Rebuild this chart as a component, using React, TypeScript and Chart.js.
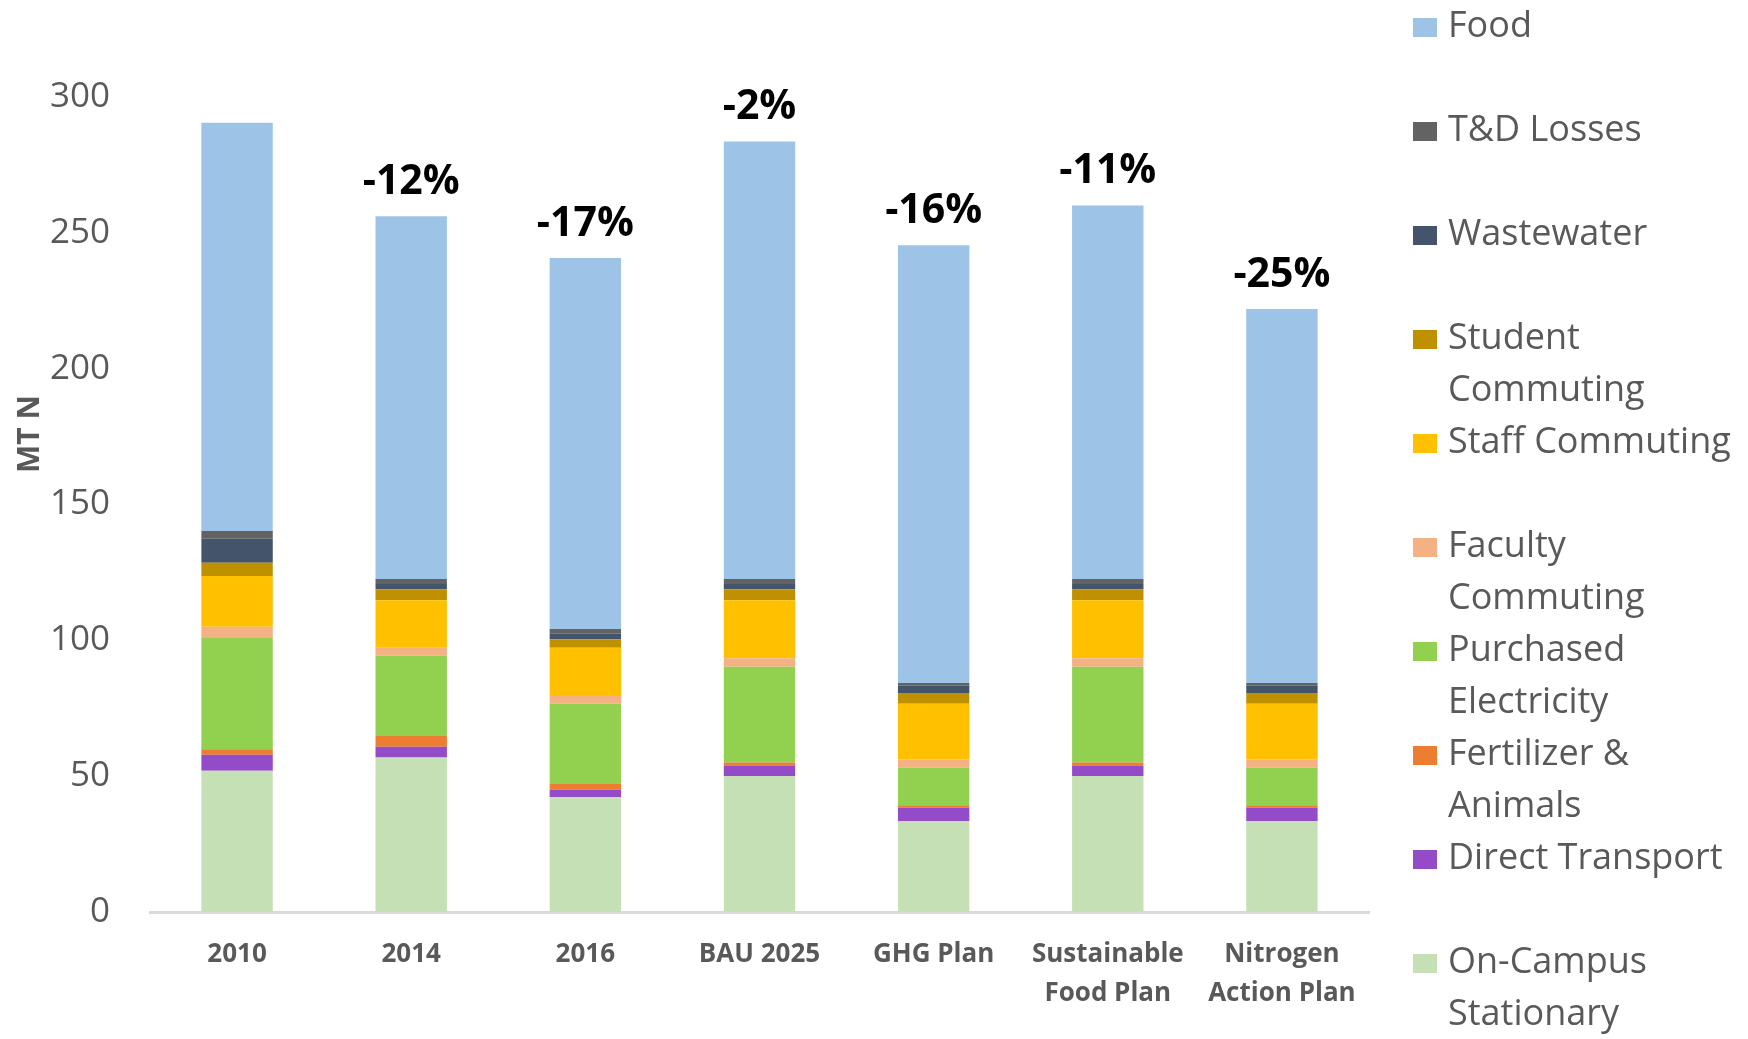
import React, { useEffect, useRef } from "react";
import { Chart, registerables } from "chart.js";

Chart.register(...registerables);

const categories = [["2010"], ["2014"], ["2016"], ["BAU 2025"], ["GHG Plan"], ["Sustainable", "Food Plan"], ["Nitrogen", "Action Plan"]];

const onCampusStationary = [52.0, 56.9, 42.2, 50.1, 33.5, 50.1, 33.5];
const directTransport = [5.9, 3.9, 2.8, 3.8, 4.9, 3.8, 4.9];
const fertilizerAnimals = [2.0, 4.0, 2.1, 1.1, 0.9, 1.1, 0.9];
const purchasedElectricity = [41.2, 29.5, 29.6, 35.3, 13.8, 35.3, 13.8];
const facultyCommuting = [3.9, 3.0, 2.8, 3.1, 3.0, 3.1, 3.0];
const staffCommuting = [18.7, 17.5, 17.8, 21.4, 20.6, 21.4, 20.6];
const studentCommuting = [4.9, 4.0, 3.1, 4.0, 3.9, 4.0, 3.9];
const wastewater = [8.8, 1.9, 2.0, 1.9, 2.7, 1.9, 2.7];
const tdLosses = [2.8, 1.9, 1.8, 1.9, 1.0, 1.9, 1.0];
const food = [150.3, 133.5, 136.5, 161.0, 161.1, 137.5, 137.7];

const changeLabels = ["", "-12%", "-17%", "-2%", "-16%", "-11%", "-25%"];

const yTicks = [0, 50, 100, 150, 200, 250, 300];

// bottom to top
const seriesNames = [
  ["On-Campus", "Stationary"],
  ["Direct Transport"],
  ["Fertilizer &", "Animals"],
  ["Purchased", "Electricity"],
  ["Faculty", "Commuting"],
  ["Staff Commuting"],
  ["Student", "Commuting"],
  ["Wastewater"],
  ["T&D Losses"],
  ["Food"],
];
const seriesValues = [
  onCampusStationary,
  directTransport,
  fertilizerAnimals,
  purchasedElectricity,
  facultyCommuting,
  staffCommuting,
  studentCommuting,
  wastewater,
  tdLosses,
  food,
];
const seriesColors = [
  "#c5e0b4",
  "#944bc8",
  "#ed7d31",
  "#92d050",
  "#f4b183",
  "#ffc000",
  "#bf9000",
  "#44546a",
  "#636363",
  "#9dc3e6",
];

const FONT = "'Open Sans', 'DejaVu Sans', sans-serif";
const GREY = "#595959";

const overlayPlugin = {
  id: "overlay",
  afterDatasetsDraw(chart: any) {
    const ctx = chart.ctx;
    // percent labels above bars
    const lastIdx = chart.data.datasets.length - 1;
    const meta = chart.getDatasetMeta(lastIdx);
    ctx.save();
    ctx.fillStyle = "#000000";
    ctx.font = `bold 41px ${FONT}`;
    ctx.textAlign = "center";
    ctx.textBaseline = "middle";
    meta.data.forEach((el: any, i: number) => {
      const t = changeLabels[i];
      if (t) ctx.fillText(t, el.x, el.y - 34);
    });
    ctx.restore();

    // y axis title
    ctx.save();
    ctx.translate(30, 434);
    ctx.rotate(-Math.PI / 2);
    ctx.fillStyle = GREY;
    ctx.font = `bold 30px ${FONT}`;
    ctx.textAlign = "center";
    ctx.textBaseline = "middle";
    ctx.fillText("MT N", 0, 0);
    ctx.restore();

    // legend (top: last dataset)
    ctx.save();
    ctx.font = `36px ${FONT}`;
    ctx.textAlign = "left";
    ctx.textBaseline = "middle";
    const n = chart.data.datasets.length;
    for (let k = 0; k < n; k++) {
      const ds = chart.data.datasets[n - 1 - k];
      const cy = 27 + k * 104;
      ctx.fillStyle = ds.backgroundColor;
      ctx.fillRect(1413, cy - 9, 24, 19);
      ctx.fillStyle = GREY;
      const lines = ds.legendLines as string[];
      lines.forEach((ln, j) => ctx.fillText(ln, 1448, cy + j * 52));
    }
    ctx.restore();
  },
};

export default function App() {
  const ref = useRef<HTMLCanvasElement | null>(null);
  useEffect(() => {
    if (!ref.current) return;
    const chart = new Chart(ref.current, {
      type: "bar",
      data: {
        labels: categories,
        datasets: seriesValues.map((vals, i) => ({
          label: seriesNames[i].join(" "),
          legendLines: seriesNames[i],
          data: vals,
          backgroundColor: seriesColors[i],
          borderWidth: 0,
          barPercentage: 0.41,
          categoryPercentage: 1,
        })) as any,
      },
      options: {
        responsive: false,
        animation: false,
        layout: { padding: { top: 97, right: 379, left: 0, bottom: 0 } },
        plugins: { legend: { display: false }, tooltip: { enabled: false } },
        scales: {
          x: {
            stacked: true,
            grid: { display: false, drawTicks: false },
            border: { display: true, color: "#d9d9d9", width: 3 },
            ticks: {
              color: GREY,
              font: { family: FONT, size: 26, weight: "bold", lineHeight: 1.5 },
              padding: 23,
              maxRotation: 0,
              autoSkip: false,
            },
            afterFit: (s: any) => {
              s.height = 127;
            },
          },
          y: {
            stacked: true,
            min: 0,
            max: 300,
            afterBuildTicks: (s: any) => {
              s.ticks = yTicks.map((v) => ({ value: v }));
            },
            grid: { display: false, drawTicks: false },
            border: { display: false },
            ticks: {
              color: GREY,
              font: { family: FONT, size: 35 },
              padding: 40,
            },
            afterFit: (s: any) => {
              s.width = 150;
            },
          },
        },
      },
      plugins: [overlayPlugin],
    });
    return () => chart.destroy();
  }, []);
  return (
    <div style={{ position: "fixed", left: 0, top: 0, width: 1748, height: 1039, background: "#ffffff" }}>
      <canvas ref={ref} width={1748} height={1039} style={{ width: 1748, height: 1039, display: "block" }} />
    </div>
  );
}
